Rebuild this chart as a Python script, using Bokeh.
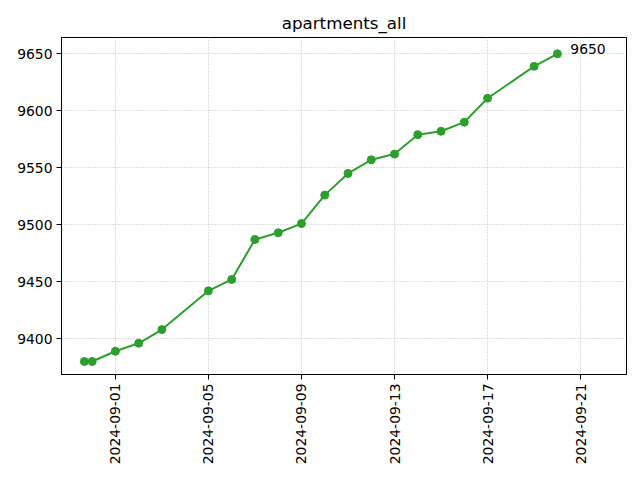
import math
import pandas as pd
from bokeh.plotting import figure
from bokeh.models import Range1d, FixedTicker, DatetimeTickFormatter, ColumnDataSource, Label
from bokeh.core.properties import value
from bokeh.embed import file_html
from bokeh.resources import INLINE

title = "apartments_all"
dates = ["2024-08-30 16:00", "2024-08-31 00:00", "2024-09-01 00:00", "2024-09-02 00:00", "2024-09-03 00:00",
         "2024-09-05 00:00", "2024-09-06 00:00", "2024-09-07 00:00", "2024-09-08 00:00", "2024-09-09 00:00",
         "2024-09-10 00:00", "2024-09-11 00:00", "2024-09-12 00:00", "2024-09-13 00:00", "2024-09-14 00:00",
         "2024-09-15 00:00", "2024-09-16 00:00", "2024-09-17 00:00", "2024-09-19 00:00", "2024-09-20 00:00"]
values = [9380, 9380, 9389, 9396, 9408, 9442, 9452, 9487, 9493, 9501,
          9526, 9545, 9557, 9562, 9579, 9582, 9590, 9611, 9639, 9650]
x_ticks = ["2024-09-01", "2024-09-05", "2024-09-09", "2024-09-13", "2024-09-17", "2024-09-21"]
y_ticks = [9400, 9450, 9500, 9550, 9600, 9650]

FONT = "DejaVu Sans"
GREEN = "#2ca02c"

dt = pd.to_datetime(dates, format="%Y-%m-%d %H:%M")
src = ColumnDataSource(dict(x=dt, y=values))

p = figure(width=640, height=480, output_backend="svg", toolbar_location=None,
           x_axis_type="datetime",
           x_range=Range1d(pd.Timestamp("2024-08-29 16:24"), pd.Timestamp("2024-09-22 23:20")),
           y_range=Range1d(9368.6, 9664.3),
           min_border_left=61, min_border_right=14, min_border_top=37, min_border_bottom=106)

p.title.text = title
p.title.align = "center"
p.title.text_font = FONT
p.title.text_font_size = "16.7px"
p.title.text_font_style = "normal"
p.title.text_color = "black"

p.outline_line_color = "black"
p.outline_line_alpha = 1
p.outline_line_width = 1

tick_ms = [pd.Timestamp(t).value / 1e6 for t in x_ticks]
p.xaxis.ticker = FixedTicker(ticks=tick_ms)
fmt = "%Y-%m-%d"
p.xaxis.formatter = DatetimeTickFormatter(microseconds=fmt, milliseconds=fmt, seconds=fmt,
                                          minsec=fmt, minutes=fmt, hourmin=fmt, hours=fmt,
                                          days=fmt, months=fmt, years=fmt)
p.xaxis.major_label_orientation = math.pi / 2
p.yaxis.ticker = FixedTicker(ticks=y_ticks)

for ax in (p.xaxis, p.yaxis):
    ax.major_label_text_font = FONT
    ax.major_label_text_font_size = "13.9px"
    ax.major_label_text_color = "black"
    ax.major_tick_out = 5
    ax.major_tick_in = 0
    ax.minor_tick_out = 0
    ax.minor_tick_in = 0
    ax.axis_line_color = "black"
    ax.major_tick_line_color = "black"
    ax.major_label_standoff = 4

for g in (p.xgrid, p.ygrid):
    g.grid_line_color = "#b0b0b0"
    g.grid_line_dash = "1 2"
    g.grid_line_width = 0.8

p.line("x", "y", source=src, line_color=GREEN, line_width=2)
p.scatter("x", "y", source=src, size=8, fill_color=GREEN, line_color=GREEN)

p.add_layout(Label(x=dt[-1], y=values[-1], text=str(values[-1]), x_offset=13, y_offset=5,
                   text_font=FONT, text_font_size="13.9px", text_color="black",
                   text_baseline="middle"))

open("out.html", "w").write(file_html(p, INLINE))
